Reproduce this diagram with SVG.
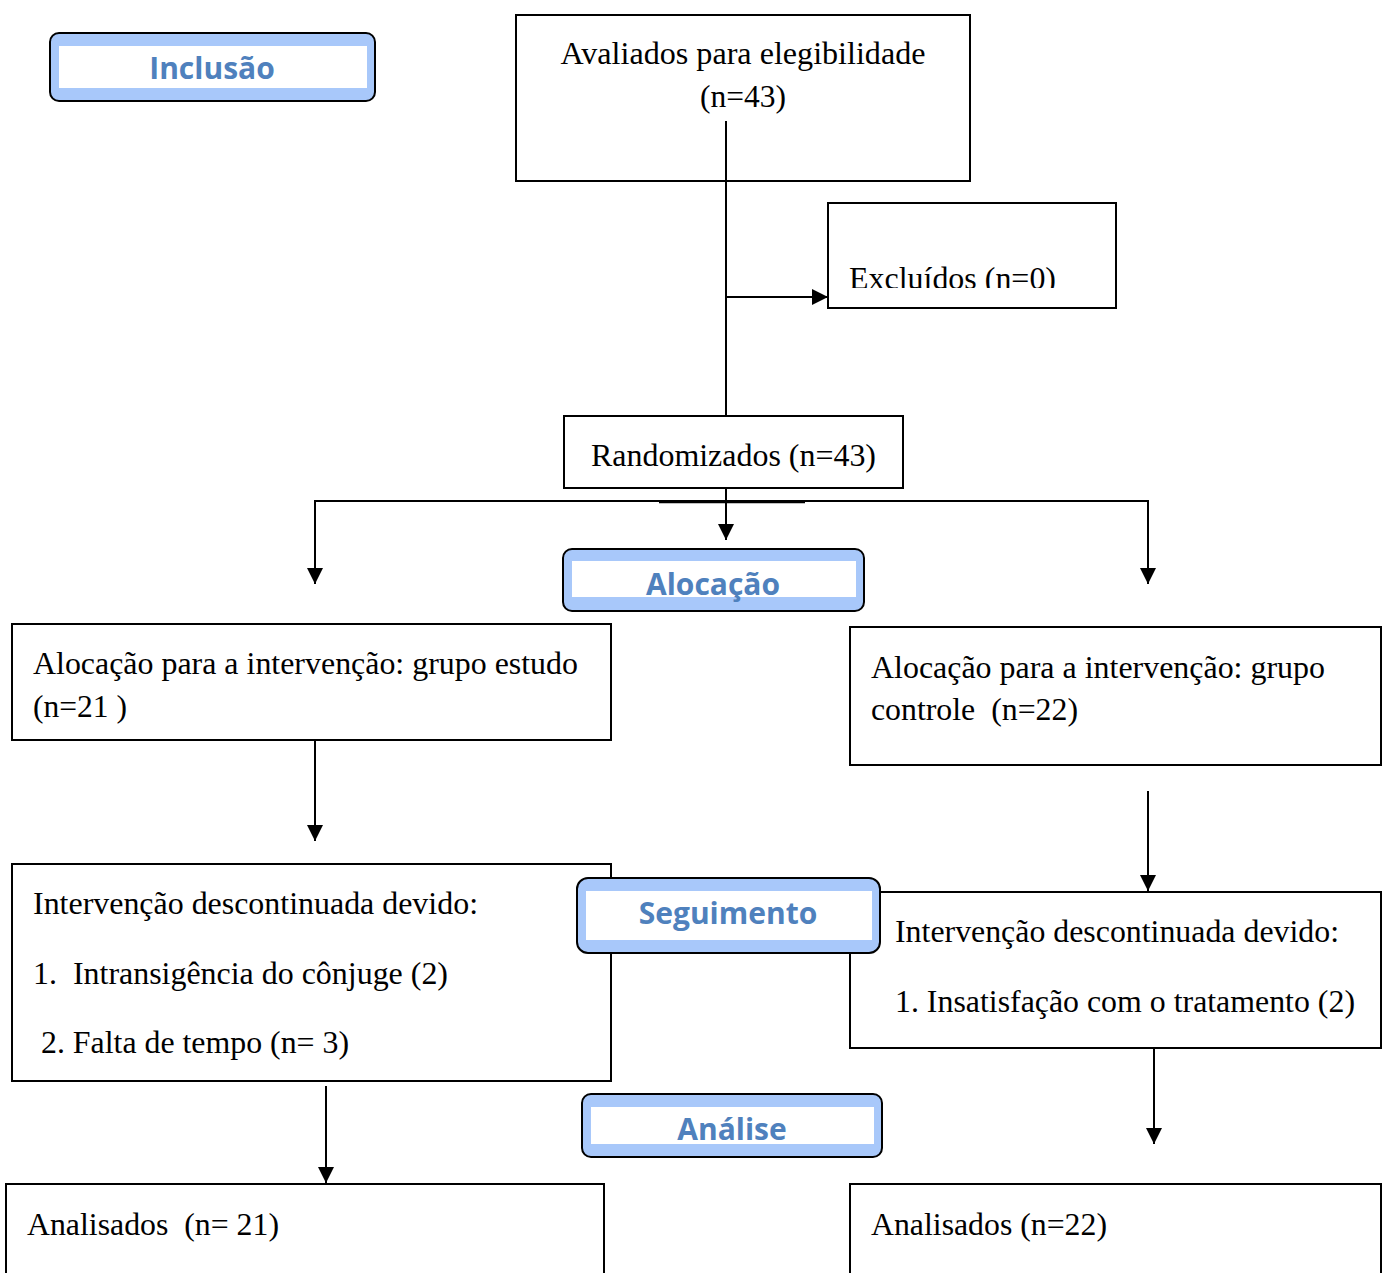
<svg xmlns="http://www.w3.org/2000/svg" width="1390" height="1273" viewBox="0 0 1390 1273">
<style>
.box{fill:#ffffff;stroke:#000000;stroke-width:2}
.t{font-family:"Liberation Serif","Times New Roman",serif;font-size:31px;fill:#000000}
.lbl-o{fill:#a8c8fa;stroke:#000000;stroke-width:2}
.lbl-i{fill:#ffffff}
.lt{font-family:"Open Sans","Noto Sans",sans-serif;font-weight:bold;font-size:30px;fill:#4f81bd;text-anchor:middle}
.ln{fill:none;stroke:#000000;stroke-width:2}
</style>
<defs>
<marker id="arr" markerUnits="userSpaceOnUse" markerWidth="16" markerHeight="16" refX="16" refY="8" orient="auto">
<path d="M0,0 L16,8 L0,16 z" fill="#000000"/>
</marker>
<clipPath id="clipEx"><rect x="828" y="203" width="288" height="85"/></clipPath>
</defs>
<rect width="1390" height="1273" fill="#ffffff"/>

<g id="connectors">
<line class="ln" x1="726" y1="121" x2="726" y2="417"/>
<line class="ln" x1="726" y1="297" x2="828" y2="297" marker-end="url(#arr)"/>
<line class="ln" x1="726" y1="488" x2="726" y2="540" marker-end="url(#arr)"/>
<polyline class="ln" points="315,584 315,501 1148,501 1148,584"/>
<line class="ln" x1="315" y1="570" x2="315" y2="584" marker-end="url(#arr)"/>
<line class="ln" x1="1148" y1="570" x2="1148" y2="584" marker-end="url(#arr)"/>
<line x1="659" y1="502.5" x2="805" y2="502.5" stroke="#000000" stroke-width="1.5"/>
<line class="ln" x1="315" y1="740" x2="315" y2="841" marker-end="url(#arr)"/>
<line class="ln" x1="1148" y1="791" x2="1148" y2="891" marker-end="url(#arr)"/>
<line class="ln" x1="326" y1="1086" x2="326" y2="1183" marker-end="url(#arr)"/>
<line class="ln" x1="1154" y1="1048" x2="1154" y2="1144" marker-end="url(#arr)"/>
</g>

<g id="avaliados">
<rect class="box" x="516" y="15" width="454" height="166"/>
<text class="t" x="743" y="64" text-anchor="middle" textLength="365" lengthAdjust="spacingAndGlyphs">Avaliados para elegibilidade</text>
<text class="t" x="743" y="107" text-anchor="middle" textLength="86" lengthAdjust="spacingAndGlyphs">(n=43)</text>
</g>
<line class="ln" x1="726" y1="121" x2="726" y2="182"/>

<g id="excluidos">
<rect class="box" x="828" y="203" width="288" height="105"/>
<text class="t" x="849" y="289" clip-path="url(#clipEx)" textLength="207" lengthAdjust="spacingAndGlyphs">Excluídos (n=0)</text>
</g>

<g id="randomizados">
<rect class="box" x="564" y="416" width="339" height="72"/>
<text class="t" x="591" y="466" textLength="285" lengthAdjust="spacingAndGlyphs">Randomizados (n=43)</text>
</g>

<g id="grupo-estudo">
<rect class="box" x="12" y="624" width="599" height="116"/>
<text class="t" x="33" y="674" textLength="545" lengthAdjust="spacingAndGlyphs">Alocação para a intervenção: grupo estudo</text>
<text class="t" x="33" y="717" xml:space="preserve" textLength="94" lengthAdjust="spacingAndGlyphs">(n=21 )</text>
</g>

<g id="grupo-controle">
<rect class="box" x="850" y="627" width="531" height="138"/>
<text class="t" x="871" y="678" textLength="454" lengthAdjust="spacingAndGlyphs">Alocação para a intervenção: grupo</text>
<text class="t" x="871" y="720" xml:space="preserve" textLength="207" lengthAdjust="spacingAndGlyphs">controle  (n=22)</text>
</g>

<g id="descont-estudo">
<rect class="box" x="12" y="864" width="599" height="217"/>
<text class="t" x="33" y="914" textLength="445" lengthAdjust="spacingAndGlyphs">Intervenção descontinuada devido:</text>
<text class="t" x="33" y="984" xml:space="preserve" textLength="415" lengthAdjust="spacingAndGlyphs">1.  Intransigência do cônjuge (2)</text>
<text class="t" x="41" y="1053" textLength="308" lengthAdjust="spacingAndGlyphs">2. Falta de tempo (n= 3)</text>
</g>

<g id="descont-controle">
<rect class="box" x="850" y="892" width="531" height="156"/>
<text class="t" x="895" y="942" textLength="444" lengthAdjust="spacingAndGlyphs">Intervenção descontinuada devido:</text>
<text class="t" x="895" y="1012" textLength="460" lengthAdjust="spacingAndGlyphs">1. Insatisfação com o tratamento (2)</text>
</g>

<g id="analisados-estudo">
<rect class="box" x="6" y="1184" width="598" height="120"/>
<text class="t" x="27" y="1235" xml:space="preserve" textLength="252" lengthAdjust="spacingAndGlyphs">Analisados  (n= 21)</text>
</g>

<g id="analisados-controle">
<rect class="box" x="850" y="1184" width="531" height="120"/>
<text class="t" x="871" y="1235" textLength="236" lengthAdjust="spacingAndGlyphs">Analisados (n=22)</text>
</g>

<g id="label-inclusao">
<rect class="lbl-o" x="50" y="33" width="325" height="68" rx="9"/>
<rect class="lbl-i" x="59" y="46" width="308" height="42"/>
<text class="lt" x="212" y="79">Inclusão</text>
</g>

<g id="label-alocacao">
<rect class="lbl-o" x="563" y="549" width="301" height="62" rx="9"/>
<rect class="lbl-i" x="572" y="561" width="284" height="36"/>
<text class="lt" x="713" y="595">Alocação</text>
</g>

<g id="label-seguimento">
<rect class="lbl-o" x="577" y="878" width="303" height="75" rx="11"/>
<rect class="lbl-i" x="586" y="891" width="286" height="49"/>
<text class="lt" x="728" y="924">Seguimento</text>
</g>

<g id="label-analise">
<rect class="lbl-o" x="582" y="1094" width="300" height="63" rx="9"/>
<rect class="lbl-i" x="591" y="1107" width="283" height="37"/>
<text class="lt" x="732" y="1140">Análise</text>
</g>
</svg>
